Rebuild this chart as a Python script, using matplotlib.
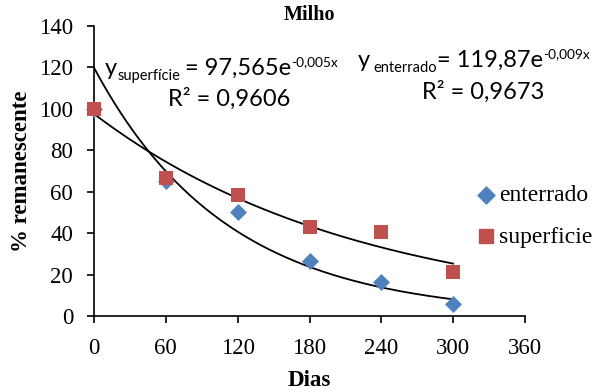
import numpy as np
import matplotlib
matplotlib.use("Agg")
import matplotlib.pyplot as plt

# dias e % remanescente
dias = [0, 60, 120, 180, 240, 300]
enterrado = [100, 65, 50, 26.5, 16.4, 6]
superficie = [100, 66.5, 58.5, 42.8, 40.5, 21.2]

# trendline coefficients (a, k) for y = a*exp(-k*x)
fit_enterrado = (119.87, 0.009)
fit_superficie = (97.565, 0.0045)

azul = "#4F81BD"
vermelho = "#C0504D"
serif = "Liberation Serif"
sans = "Lato"
W, H = 611, 392

fig = plt.figure(figsize=(W / 100, H / 100), dpi=100)
ax = fig.add_axes([94 / W, 1 - 316 / H, 431 / W, 290 / H])

xx = np.linspace(0, 300, 200)
for a, k in (fit_superficie, fit_enterrado):
    ax.plot(xx, a * np.exp(-k * xx), color="black", lw=1.3, zorder=1)

ax.scatter(dias, enterrado, marker="D", s=75, color=azul, zorder=3, linewidths=0, clip_on=False)
ax.scatter(dias, superficie, marker="s", s=110, color=vermelho, zorder=4, linewidths=0, clip_on=False)

ax.set_xlim(0, 360)
ax.set_ylim(0, 140)
ax.set_xticks(range(0, 361, 60))
ax.set_yticks(range(0, 141, 20))
for s in ("top", "right"):
    ax.spines[s].set_visible(False)
for s in ("left", "bottom"):
    ax.spines[s].set_linewidth(1.2)
ax.tick_params(direction="out", length=5, width=1.2, labelsize=16.5)
ax.tick_params(axis="x", pad=11)
ax.tick_params(axis="y", pad=10)
for lab in ax.get_xticklabels() + ax.get_yticklabels():
    lab.set_fontfamily(serif)

ax.set_title("Milho", fontfamily=serif, fontweight="bold", fontsize=14.5, pad=4)
ax.set_xlabel("Dias", fontfamily=serif, fontweight="bold", fontsize=16.5, labelpad=8)
ax.set_ylabel("% remanescente", fontfamily=serif, fontweight="bold", fontsize=16.5, labelpad=5)

# equations, laid out piece by piece (n = normal, b = subscript, p = superscript)
renderer = fig.canvas.get_renderer()


def equation(x, y, parts, size=17):
    for txt, kind in parts:
        fs, dy = size, 0
        if kind == "b":
            fs, dy = size * 0.62, size * 0.3
        elif kind == "p":
            fs, dy = size * 0.58, -size * 0.5
        lead = len(txt) - len(txt.lstrip(" "))
        x += lead * fs * 0.3
        t = fig.text(x / W, 1 - (y + dy) / H, txt.lstrip(" "), fontfamily=sans, fontsize=fs,
                     ha="left", va="baseline")
        x += t.get_window_extent(renderer).width


equation(105, 75, [("y", "n"), ("superfície", "b"), (" = 97,565e", "n"), ("-0,005x", "p")])
equation(358, 67, [("y", "n"), (" enterrado", "b"), ("= 119,87e", "n"), ("-0,009x", "p")])
fig.text(168 / W, 1 - 106 / H, "R² = 0,9606", fontfamily=sans, fontsize=17, va="baseline")
fig.text(422 / W, 1 - 99 / H, "R² = 0,9673", fontfamily=sans, fontsize=17, va="baseline")

# legend
ax.scatter([], [], marker="D", s=75, color=azul, label="enterrado")
ax.scatter([], [], marker="s", s=110, color=vermelho, label="superficie")
h, l = ax.get_legend_handles_labels()
ax.legend(h[-2:], l[-2:], loc="center left", bbox_to_anchor=(0.888, 0.345), frameon=False,
          prop={"family": serif, "size": 17}, handletextpad=0.15, labelspacing=0.85,
          handlelength=0.8, borderaxespad=0, borderpad=0)

fig.savefig("out.png", dpi=100)
